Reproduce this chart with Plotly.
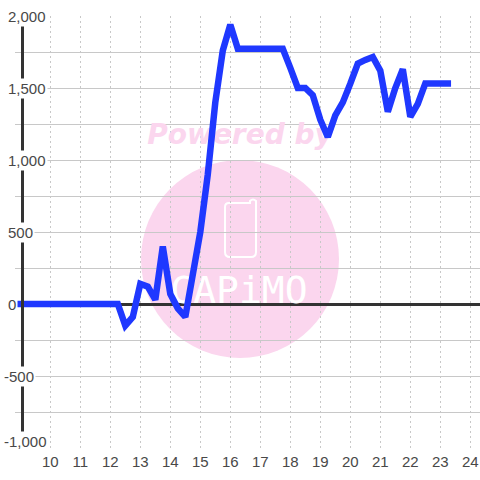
import plotly.graph_objects as go

hours = [8.75, 9, 9.25, 9.5, 9.75, 10, 10.25, 10.5, 10.75, 11, 11.25, 11.5, 11.75, 12, 12.25,
         12.5, 12.75, 13, 13.25, 13.5, 13.75, 14, 14.25, 14.5, 14.75, 15, 15.25, 15.5, 15.75,
         16, 16.25, 16.5, 16.75, 17, 17.25, 17.5, 17.75, 18, 18.25, 18.5, 18.75, 19, 19.25,
         19.5, 19.75, 20, 20.25, 20.5, 20.75, 21, 21.25, 21.5, 21.75, 22, 22.25, 22.5, 22.75,
         23, 23.25]
values = [0, 0, 0, 0, 0, 0, 0, 0, 0, 0, 0, 0, 0, 0, 0,
          -150, -90, 140, 120, 30, 400, 70, -30, -90, 200, 500, 900, 1400, 1760,
          1940, 1772, 1772, 1772, 1772, 1772, 1772, 1772, 1640, 1500, 1500, 1450, 1280, 1160,
          1310, 1400, 1530, 1670, 1695, 1715, 1620, 1335, 1500, 1630, 1300, 1390, 1532, 1532,
          1532, 1532]
x_ticks = list(range(10, 25))
y_grid = [-1000, -750, -500, -250, 0, 250, 500, 750, 1000, 1250, 1500, 1750, 2000]
y_labels = [(2000, "2,000"), (1500, "1,500"), (1000, "1,000"), (500, "500"),
            (0, "0"), (-500, "-500"), (-1000, "-1,000")]

W = H = 480
L, R, T, B = 15, 0, 16, 32
AXIS_PX = 22
X_RANGE = [10 - (50.3 - L) / 30, 10 + (480 - 50.3) / 30]
Y_RANGE = [-1000, 2000]


def px_x(p):
    return (p - L) / (W - L - R)


def px_y(p):
    return 1 - (p - T) / (H - T - B)


def dx(p):
    return X_RANGE[0] + (p - L) / 30


def dy(p):
    return (304 - p) / 0.144


PINK = "#fbd6ee"
fig = go.Figure()

fig.add_trace(go.Scatter(x=[dx(240)], y=[dy(137)], mode="text", text=["Powered by"],
                         textfont=dict(family="DejaVu Sans", size=28, color=PINK,
                                       weight="bold", style="italic"),
                         textposition="middle center", hoverinfo="skip", showlegend=False))
fig.add_trace(go.Scatter(x=[dx(239)], y=[dy(293)], mode="text", text=["CAPiMO"],
                         textfont=dict(family="DejaVu Sans Mono", size=38, color="white"),
                         textposition="middle center", hoverinfo="skip", showlegend=False))
fig.add_trace(go.Scatter(x=hours, y=values, mode="lines",
                         line=dict(color="#1f38ff", width=6.5),
                         hoverinfo="skip", showlegend=False))

phone = (f"M {px_x(250)} {px_y(203)} L {px_x(229)} {px_y(203)} Q {px_x(225)} {px_y(203)} {px_x(225)} {px_y(207)} "
         f"L {px_x(225)} {px_y(252)} Q {px_x(225)} {px_y(257)} {px_x(230)} {px_y(257)} "
         f"L {px_x(251)} {px_y(257)} Q {px_x(256)} {px_y(257)} {px_x(256)} {px_y(252)} "
         f"L {px_x(256)} {px_y(201)} Q {px_x(253)} {px_y(198)} {px_x(250)} {px_y(201)} Z")
shapes = [
    dict(type="circle", xref="paper", yref="paper", layer="below",
         x0=px_x(141), x1=px_x(339), y0=px_y(358), y1=px_y(160),
         fillcolor=PINK, line=dict(width=0)),
    dict(type="path", xref="paper", yref="paper", layer="below", path=phone,
         line=dict(color="white", width=2)),
    dict(type="rect", xref="paper", yref="paper", layer="between",
         x0=0, x1=px_x(AXIS_PX - 2), y0=0, y1=1,
         fillcolor="white", line=dict(width=0)),
]

annotations = []
for value, label in y_labels:
    annotations.append(dict(
        x=px_x(2 if label.startswith("-") else 6), xref="paper", xanchor="left",
        y=value, yref="y", yanchor="middle", yshift=7 if value == -1000 else 0,
        text=label, showarrow=False, bgcolor="white", borderpad=1,
        font=dict(family="Liberation Sans", size=15, color="#484848")))

fig.update_layout(
    width=W, height=H, margin=dict(l=L, r=R, t=T, b=B, pad=0),
    paper_bgcolor="white", plot_bgcolor="white", showlegend=False,
    shapes=shapes, annotations=annotations,
    xaxis=dict(range=X_RANGE, tickmode="array", tickvals=x_ticks,
               ticktext=[str(v) for v in x_ticks], ticks="", showline=False, zeroline=False,
               showgrid=True, gridcolor="#c8c8c8", gridwidth=1, griddash="2px,3px",
               ticklabelstandoff=3,
               tickfont=dict(family="Liberation Sans", size=15, color="#484848")),
    yaxis=dict(range=Y_RANGE, tickmode="array", tickvals=y_grid, ticks="", showticklabels=False,
               anchor="free", position=px_x(AXIS_PX),
               showline=True, linecolor="#333333", linewidth=3,
               zeroline=True, zerolinecolor="#333333", zerolinewidth=3,
               showgrid=True, gridcolor="#c8c8c8", gridwidth=1),
)

fig.write_html("out.html", config={"displayModeBar": False}, post_script=(
    "document.body.style.margin='0';"
    "document.querySelectorAll('.js-line').forEach(function(p){"
    "p.style.strokeLinejoin='miter';p.style.strokeLinecap='square';});"
))
